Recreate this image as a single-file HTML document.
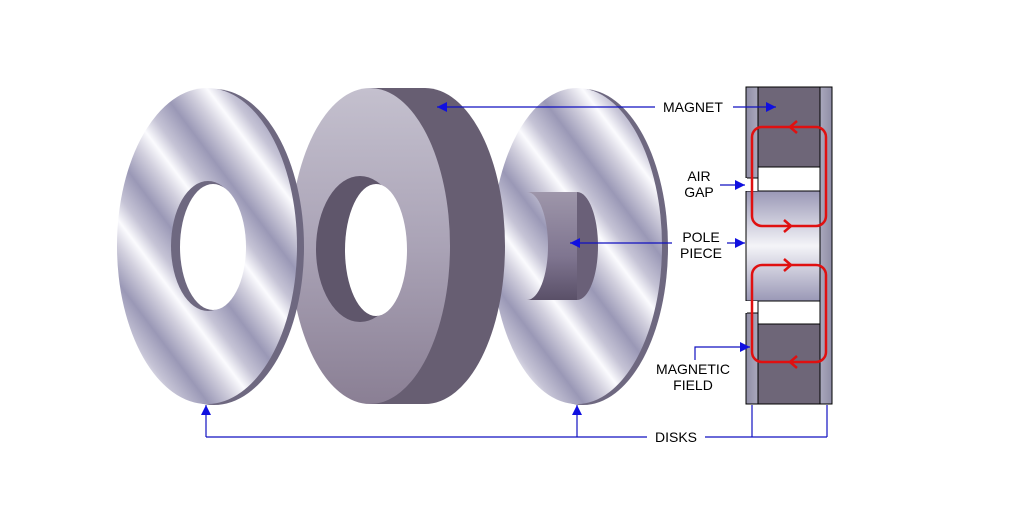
<!DOCTYPE html>
<html><head><meta charset="utf-8"><style>
html,body{margin:0;padding:0;background:#fff;}
svg{display:block}
text{font-family:"Liberation Sans",Arial,sans-serif;font-size:14px;fill:#000;}
</style></head><body>
<svg width="1009" height="522" viewBox="0 0 1009 522" xmlns="http://www.w3.org/2000/svg">
<defs>
<linearGradient id="steel" gradientUnits="userSpaceOnUse" x1="0" y1="0" x2="60" y2="-45" spreadMethod="repeat">
<stop offset="0" stop-color="#9a98b6"/>
<stop offset="0.3" stop-color="#d2d0de"/>
<stop offset="0.5" stop-color="#fbfbfe"/>
<stop offset="0.7" stop-color="#c6c4d6"/>
<stop offset="1" stop-color="#9a98b6"/>
</linearGradient>
<linearGradient id="magface" x1="0" y1="0" x2="0" y2="1">
<stop offset="0" stop-color="#c4c0ce"/>
<stop offset="0.5" stop-color="#aaa3b6"/>
<stop offset="1" stop-color="#8a7f94"/>
</linearGradient>
<linearGradient id="pole" x1="0" y1="0" x2="0" y2="1">
<stop offset="0" stop-color="#9e96aa"/>
<stop offset="0.6" stop-color="#7f7590"/>
<stop offset="1" stop-color="#5a5068"/>
</linearGradient>
<linearGradient id="csec" x1="0" y1="0" x2="0" y2="1">
<stop offset="0" stop-color="#9a98b6"/>
<stop offset="0.5" stop-color="#f4f4f8"/>
<stop offset="1" stop-color="#9a98b6"/>
</linearGradient>
<linearGradient id="csv" x1="0" y1="0" x2="1" y2="0">
<stop offset="0" stop-color="#8f8da6"/>
<stop offset="0.5" stop-color="#f0f0f6"/>
<stop offset="1" stop-color="#8f8da6"/>
</linearGradient>
<marker id="ah" viewBox="0 0 10 10" refX="10" refY="5" markerWidth="10" markerHeight="10" markerUnits="userSpaceOnUse" orient="auto">
<path d="M0,0 L10,5 L0,10 z" fill="#1010e0"/>
</marker>
</defs>

<!-- right disk -->
<ellipse cx="583" cy="247" rx="85" ry="158" fill="#6e6880"/>
<ellipse cx="577" cy="246" rx="85" ry="158" fill="url(#steel)"/>

<!-- magnet -->
<ellipse cx="425" cy="246" rx="80" ry="158" fill="#675e72"/>
<rect x="370" y="88" width="55" height="316" fill="#675e72"/>
<ellipse cx="370" cy="246" rx="80" ry="158" fill="url(#magface)"/>
<ellipse cx="360" cy="249" rx="44" ry="73" fill="#5f566b"/>
<ellipse cx="376" cy="250" rx="31" ry="66" fill="#fff"/>

<!-- pole piece -->
<ellipse cx="577" cy="246" rx="21" ry="54" fill="#6a6078"/>
<rect x="527" y="192" width="50" height="108" fill="url(#pole)"/>
<ellipse cx="527" cy="246" rx="21" ry="54" fill="url(#steel)"/>

<!-- left disk -->
<ellipse cx="214" cy="247" rx="90" ry="158" fill="#6e6880"/>
<ellipse cx="207" cy="246" rx="90" ry="158" fill="url(#steel)"/>
<ellipse cx="208" cy="246" rx="37" ry="65" fill="#6e6880"/>
<ellipse cx="213" cy="247" rx="33" ry="63" fill="#fff"/>

<!-- cross section -->
<rect x="746" y="87" width="86" height="317" fill="url(#csv)" stroke="#000" stroke-width="1"/>
<rect x="758" y="87" width="62" height="80" fill="#6e6678" stroke="#000" stroke-width="1"/>
<rect x="758" y="324" width="62" height="80" fill="#6e6678" stroke="#000" stroke-width="1"/>
<rect x="746" y="191" width="74" height="110" fill="url(#csec)" stroke="#000" stroke-width="1"/>
<rect x="758" y="167" width="62" height="24" fill="#fff" stroke="#000" stroke-width="1"/>
<rect x="758" y="301" width="62" height="23" fill="#fff" stroke="#000" stroke-width="1"/>
<rect x="745" y="178" width="13" height="13" fill="#fff"/>
<rect x="745" y="301" width="13" height="12" fill="#fff"/>
<line x1="758" y1="178" x2="758" y2="191" stroke="#000"/>
<line x1="746" y1="178" x2="758" y2="178" stroke="#000"/>
<line x1="746" y1="313" x2="758" y2="313" stroke="#000"/>
<line x1="758" y1="301" x2="758" y2="313" stroke="#000"/>
<line x1="746" y1="178" x2="746" y2="191" stroke="#fff" stroke-width="2"/>
<line x1="746" y1="301" x2="746" y2="313" stroke="#fff" stroke-width="2"/>

<!-- red loops -->
<g fill="none" stroke="#e01010" stroke-width="2.5">
<rect x="752" y="127" width="74" height="99" rx="10"/>
<rect x="752" y="265" width="74" height="97" rx="10"/>
<polyline points="797,121 790,127 797,133"/>
<polyline points="784,220 791,226 784,232"/>
<polyline points="784,259 791,265 784,271"/>
<polyline points="797,356 790,362 797,368"/>
</g>

<!-- labels and leaders -->
<g stroke="#1010c0" stroke-width="1.2" fill="none">
<line x1="655" y1="107" x2="437" y2="107" marker-end="url(#ah)"/>
<line x1="733" y1="107" x2="776" y2="107" marker-end="url(#ah)"/>
<line x1="720" y1="185" x2="745" y2="185" marker-end="url(#ah)"/>
<line x1="672" y1="243" x2="570" y2="243" marker-end="url(#ah)"/>
<line x1="727" y1="243" x2="745" y2="243" marker-end="url(#ah)"/>
<polyline points="695,360 695,347 750,347" marker-end="url(#ah)"/>
<line x1="647" y1="437" x2="206" y2="437"/>
<line x1="206" y1="437" x2="206" y2="405" marker-end="url(#ah)"/>
<line x1="577" y1="437" x2="577" y2="405" marker-end="url(#ah)"/>
<line x1="705" y1="437" x2="827" y2="437"/>
<line x1="752" y1="437" x2="752" y2="405"/>
<line x1="827" y1="437" x2="827" y2="405"/>
</g>
<text x="663" y="112">MAGNET</text>
<text x="699" y="181" text-anchor="middle">AIR</text>
<text x="699" y="197" text-anchor="middle">GAP</text>
<text x="701" y="242" text-anchor="middle">POLE</text>
<text x="701" y="258" text-anchor="middle">PIECE</text>
<text x="693" y="374" text-anchor="middle">MAGNETIC</text>
<text x="693" y="390" text-anchor="middle">FIELD</text>
<text x="655" y="442">DISKS</text>
</svg>
</body></html>
